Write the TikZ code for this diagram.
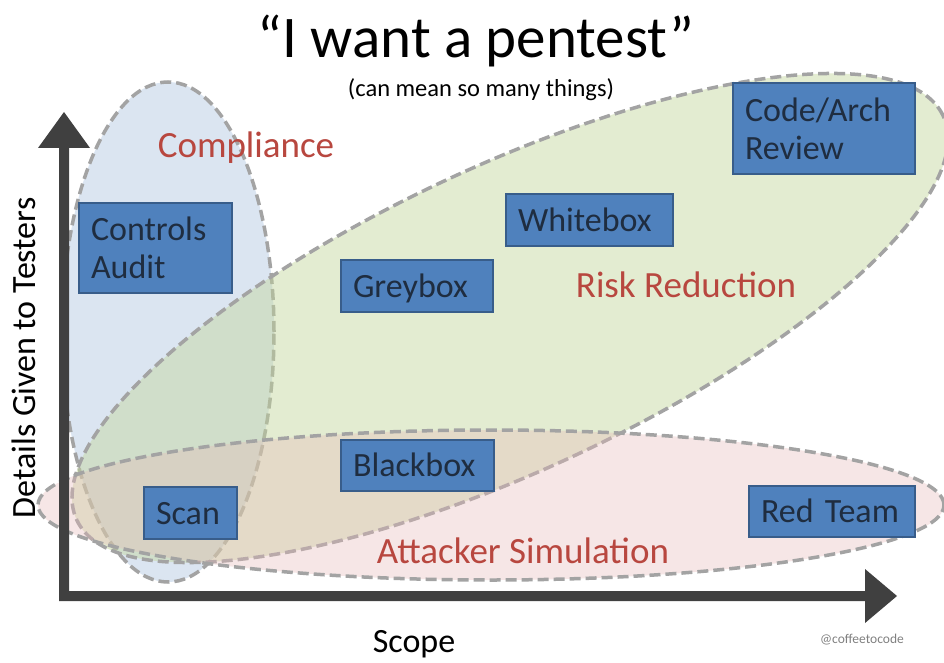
\documentclass[tikz,border=0pt]{standalone}
\usepackage{fontspec}
\setmainfont{Carlito}
\definecolor{axisc}{HTML}{404040}
\definecolor{dashc}{HTML}{A3A3A3}
\definecolor{bluef}{HTML}{B9CDE5}
\definecolor{greenf}{HTML}{C3D69B}
\definecolor{pinkf}{HTML}{E6B9B8}
\definecolor{boxf}{HTML}{4F81BD}
\definecolor{boxd}{HTML}{385D8A}
\definecolor{boxt}{HTML}{1F2D40}
\definecolor{redt}{HTML}{B8473F}
\begin{document}
\begin{tikzpicture}[x=1pt,y=-1pt,
  region/.style={draw=dashc, line width=3.5pt, dash pattern=on 11pt off 5pt},
  tbox/.style={draw=boxd, fill=boxf, line width=1.5pt, text=boxt,
    font=\fontsize{34}{38}\selectfont, align=left, inner xsep=12pt,
    inner ysep=0pt, outer sep=0pt, anchor=north west},
  onebox/.style={tbox, text height=26pt, text depth=4pt},
  lbl/.style={text=redt, font=\fontsize{37}{44}\selectfont, anchor=base},
  axlbl/.style={font=\fontsize{34}{40}\selectfont, anchor=base}]
\useasboundingbox (0,0) rectangle (944,663);
\fill[white] (0,0) rectangle (944,663);

% regions
\draw[region, fill=bluef, fill opacity=0.5] (168,332) ellipse [x radius=106pt, y radius=250pt];
\draw[region, fill=greenf, fill opacity=0.45, rotate around={25:(510,318)}]
  (510,318) ellipse [x radius=478pt, y radius=152pt];
\draw[region, fill=pinkf, fill opacity=0.35] (491,505) ellipse [x radius=453pt, y radius=75pt];

% axes
\fill[axisc] (59,601) -- (59,148) -- (38,148) -- (64,112) -- (90,148) -- (69,148)
  -- (69,591) -- (865,591) -- (865,569) -- (897,596) -- (865,623) -- (865,601) -- cycle;

% texts
\node[font=\fontsize{59}{70}\selectfont, anchor=base] (title) at (476,58) {“I want a pentest”};
\node[font=\fontsize{24.5}{28}\selectfont, anchor=base] (sub) at (481,97) {(can mean so many things)};
\node[lbl] (compl) at (246,158) {Compliance};
\node[lbl] (risk) at (686,297) {Risk Reduction};
\node[lbl] (attack) at (523,563) {Attacker Simulation};
\node[axlbl] (scope) at (414,652) {Scope};
\node[axlbl, rotate=90] (ylab) at (35,358) {Details Given to Testers};
\node[font=\fontsize{13.5}{16}\selectfont, text=gray, anchor=base] (credit) at (862,643) {@coffeetocode};

% boxes
\node[tbox, text width=129pt, minimum height=90pt] (controls) at (79,203) {Controls\\Audit};
\node[tbox, text width=158pt, minimum height=91pt] (codearch) at (733,83) {Code/Arch\\Review};
\node[onebox, text width=128pt, minimum height=52pt] (greybox) at (341,260) {Greybox};
\node[onebox, text width=143pt, minimum height=52pt] (whitebox) at (506,194) {Whitebox};
\node[onebox, text width=129pt, minimum height=51pt] (blackbox) at (341,440) {Blackbox};
\node[onebox, text width=69pt, minimum height=52pt] (scan) at (144,487) {Scan};
\node[onebox, text width=142pt, minimum height=51pt] (redteam) at (749,486) {Red Team};
\end{tikzpicture}
\end{document}
